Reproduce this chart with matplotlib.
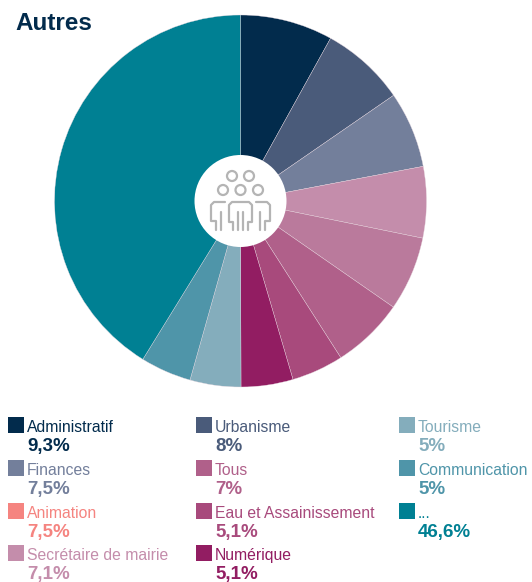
import matplotlib
matplotlib.use("Agg")
import matplotlib.pyplot as plt
from matplotlib.patches import Circle, Rectangle

plt.rcParams['font.family'] = ['Liberation Sans', 'DejaVu Sans']

# ordre de la legende, colonne par colonne
categories = ["Administratif", "Finances", "Animation", "Secrétaire de mairie",
              "Urbanisme", "Tous", "Eau et Assainissement", "Numérique",
              "Tourisme", "Communication", "..."]
valeurs_txt = ["9,3%", "7,5%", "7,5%", "7,1%", "8%", "7%", "5,1%", "5,1%", "5%", "5%", "46,6%"]
couleurs_legende = ["#022B4C", "#737F9B", "#F58480", "#C48DAB", "#4A5B7A", "#B0608A",
                    "#A84A7C", "#921D62", "#84ADBC", "#4F95A9", "#008093"]

parts = [9.1, 8.3, 7.5, 7.0, 7.3, 7.1, 5.1, 5.1, 5, 5, 46.6]
couleurs_parts = ["#022B4C", "#4A5B7A", "#737F9B", "#C48DAB", "#BA7A9C", "#B0608A",
                  "#A84A7C", "#921D62", "#84ADBC", "#4F95A9", "#008093"]

fig = plt.figure(figsize=(5.32, 5.82), dpi=100)
ax = fig.add_axes([0, 0, 1, 1])

# axe y inverse : le sens trigo devient horaire a l'ecran
ax.pie(parts, colors=couleurs_parts, startangle=-90, counterclock=True,
       center=(240.5, 201), radius=186, frame=False,
       wedgeprops=dict(linewidth=0.25, edgecolor='#E8D8E0'))
ax.set_xlim(0, 532)
ax.set_ylim(582, 0)
ax.set_aspect('equal')
ax.axis('off')

ax.text(15, 23, "Autres", fontsize=17.5, fontweight='bold', color="#022B4C", va='center')

# icone centrale
ax.add_patch(Circle((240.5, 201), 46, fc='white', ec='none', zorder=3))
gris = "#B4B4B4"
for x, y in [(232, 176), (249, 176), (223, 190), (240.5, 190), (258, 190)]:
    ax.add_patch(Circle((x, y), 5, fc='none', ec=gris, lw=1.6, zorder=4))
for xs, ys in [([225, 214, 211, 211, 216, 216], [202, 202, 205, 221, 221, 230]),
               ([256, 267, 270, 270, 265, 265], [202, 202, 205, 221, 221, 230]),
               ([233, 233, 229, 229, 232, 249, 252, 252, 248, 248], [230, 222, 222, 205, 202, 202, 205, 222, 222, 230]),
               ([221, 221], [212, 230]), ([260, 260], [212, 230]),
               ([238, 238], [212, 230]), ([243, 243], [212, 230])]:
    ax.plot(xs, ys, color=gris, lw=1.6, zorder=4, solid_capstyle='round')

# legende
colonnes_x = [8, 196, 399]
ligne_y = [417, 460, 503, 545]
n_par_col = [4, 4, 3]
i = 0
for c, n in enumerate(n_par_col):
    for l in range(n):
        x, y = colonnes_x[c], ligne_y[l]
        coul = couleurs_legende[i]
        ax.add_patch(Rectangle((x, y), 16, 16, fc=coul, ec='none'))
        ax.text(x + 19, y + 10.5, categories[i], fontsize=11.3, color=coul, va='center')
        ax.text(x + 19, y + 29.5, valeurs_txt[i], fontsize=13.5, fontweight='bold', color=coul, va='center')
        i += 1

fig.savefig("out.png", dpi=100)
